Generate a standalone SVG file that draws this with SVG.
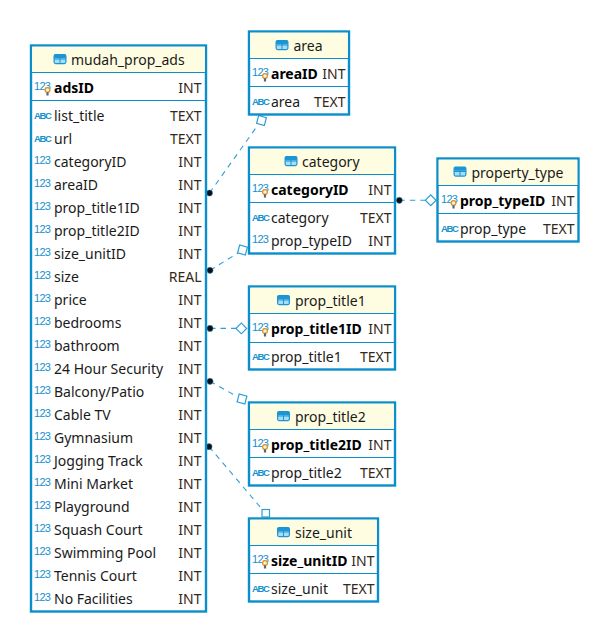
<svg xmlns="http://www.w3.org/2000/svg" width="589" height="623" viewBox="0 0 589 623">
<style>
text{font-family:"Noto Sans","Open Sans","Liberation Sans",sans-serif;font-size:14px;fill:#1a1a1a}
.box{fill:#fff;stroke:#0a8fcc;stroke-width:2.4}
.head{fill:#fffde1}
.sep{stroke:#0a8fcc;stroke-width:1;fill:none}
.b{font-weight:700;fill:#000}
.ty{text-anchor:end;fill:#33291a}
.n{font-size:11px;letter-spacing:-.7px;fill:#1590d0;font-family:"Liberation Sans",sans-serif}
.a{font-size:9.500px;letter-spacing:-1.300px;font-weight:700;fill:#1590d0;font-family:"Liberation Sans",sans-serif}
.conn{stroke:#2d9fd6;stroke-width:1.100;stroke-dasharray:5.500 5;fill:none}
.end{fill:#fff;stroke:#2d9fd6;stroke-width:1.200}
.dot{fill:#04121c;stroke:#4a90b8;stroke-width:.5}
</style>
<defs>
<g id="tbl"><rect x=".6" y=".6" width="11.800" height="9" rx="1.500" fill="#a9dcf5" stroke="#1b95d3" stroke-width="1.200"/><rect x=".6" y=".6" width="11.800" height="3.600" rx="1" fill="#1b95d3"/><path d="M.6 5H12.400M6.500 4V9.600" stroke="#1b95d3" stroke-width="1" fill="none"/></g>
<g id="key"><circle cx="0" cy="0" r="2.400" fill="#fff3c8" stroke="#d9902a" stroke-width="1.200"/><rect x="-1.100" y="2.300" width="2.200" height="3.200" fill="#5a6570"/></g>
</defs>
<g id="connectors">
<line class="conn" x1="209.500" y1="193" x2="258" y2="125"/>
<line class="conn" x1="210" y1="270.300" x2="238" y2="253"/>
<line class="conn" x1="399.300" y1="200.300" x2="425" y2="200.300"/>
<line class="conn" x1="210" y1="328.400" x2="236" y2="328.400"/>
<line class="conn" x1="210" y1="381.300" x2="236" y2="396"/>
<line class="conn" x1="209" y1="446.700" x2="261" y2="508"/>
<rect class="end" x="257.500" y="116.500" width="8" height="8" transform="rotate(15 261.500 120.500)"/>
<rect class="end" x="238.500" y="246" width="8" height="8" transform="rotate(15 242.500 250)"/>
<rect class="end" x="426.900" y="196.500" width="7.600" height="7.600" transform="rotate(45 430.700 200.300)"/>
<rect class="end" x="237.500" y="324.600" width="7.600" height="7.600" transform="rotate(45 241.300 328.400)"/>
<rect class="end" x="238" y="395" width="8" height="8" transform="rotate(15 242 399)"/>
<rect class="end" x="262" y="509.500" width="7.500" height="7.500"/>
<circle class="dot" cx="209.500" cy="193" r="3.100"/>
<circle class="dot" cx="210" cy="270.300" r="3.100"/>
<circle class="dot" cx="399.300" cy="200.300" r="3.100"/>
<circle class="dot" cx="210" cy="328.400" r="3.100"/>
<circle class="dot" cx="210" cy="381.300" r="3.100"/>
<circle class="dot" cx="209" cy="446.700" r="3.100"/>
</g>
<g id="mudah_prop_ads">
<rect class="box" x="31" y="45.500" width="175" height="566"/>
<rect class="head" x="32.200" y="46.700" width="172.600" height="25.300"/>
<line class="sep" x1="31" y1="72.500" x2="206" y2="72.500"/>
<line class="sep" x1="31" y1="100.500" x2="206" y2="100.500"/>
<use href="#tbl" x="53.500" y="54"/>
<text x="71" y="64.500">mudah_prop_ads</text>
<text class="n" x="34" y="90">123</text><use href="#key" x="47.500" y="90"/><text class="b" x="54" y="92.500">adsID</text><text class="ty" x="201.500" y="92.500">INT</text>
<text class="a" x="34" y="118.500">ABC</text><text x="54" y="120.500">list_title</text><text class="ty" x="201.500" y="120.500">TEXT</text>
<text class="a" x="34" y="141.500">ABC</text><text x="54" y="143.500">url</text><text class="ty" x="201.500" y="143.500">TEXT</text>
<text class="n" x="34" y="164">123</text><text x="54" y="166.500">categoryID</text><text class="ty" x="201.500" y="166.500">INT</text>
<text class="n" x="34" y="187">123</text><text x="54" y="189.500">areaID</text><text class="ty" x="201.500" y="189.500">INT</text>
<text class="n" x="34" y="210">123</text><text x="54" y="212.500">prop_title1ID</text><text class="ty" x="201.500" y="212.500">INT</text>
<text class="n" x="34" y="233">123</text><text x="54" y="235.500">prop_title2ID</text><text class="ty" x="201.500" y="235.500">INT</text>
<text class="n" x="34" y="256">123</text><text x="54" y="258.500">size_unitID</text><text class="ty" x="201.500" y="258.500">INT</text>
<text class="n" x="34" y="279">123</text><text x="54" y="281.500">size</text><text class="ty" x="201.500" y="281.500">REAL</text>
<text class="n" x="34" y="302">123</text><text x="54" y="304.500">price</text><text class="ty" x="201.500" y="304.500">INT</text>
<text class="n" x="34" y="325">123</text><text x="54" y="327.500">bedrooms</text><text class="ty" x="201.500" y="327.500">INT</text>
<text class="n" x="34" y="348">123</text><text x="54" y="350.500">bathroom</text><text class="ty" x="201.500" y="350.500">INT</text>
<text class="n" x="34" y="371">123</text><text x="54" y="373.500">24 Hour Security</text><text class="ty" x="201.500" y="373.500">INT</text>
<text class="n" x="34" y="394">123</text><text x="54" y="396.500">Balcony/Patio</text><text class="ty" x="201.500" y="396.500">INT</text>
<text class="n" x="34" y="417">123</text><text x="54" y="419.500">Cable TV</text><text class="ty" x="201.500" y="419.500">INT</text>
<text class="n" x="34" y="440">123</text><text x="54" y="442.500">Gymnasium</text><text class="ty" x="201.500" y="442.500">INT</text>
<text class="n" x="34" y="463">123</text><text x="54" y="465.500">Jogging Track</text><text class="ty" x="201.500" y="465.500">INT</text>
<text class="n" x="34" y="486">123</text><text x="54" y="488.500">Mini Market</text><text class="ty" x="201.500" y="488.500">INT</text>
<text class="n" x="34" y="509">123</text><text x="54" y="511.500">Playground</text><text class="ty" x="201.500" y="511.500">INT</text>
<text class="n" x="34" y="532">123</text><text x="54" y="534.500">Squash Court</text><text class="ty" x="201.500" y="534.500">INT</text>
<text class="n" x="34" y="555">123</text><text x="54" y="557.500">Swimming Pool</text><text class="ty" x="201.500" y="557.500">INT</text>
<text class="n" x="34" y="578">123</text><text x="54" y="580.500">Tennis Court</text><text class="ty" x="201.500" y="580.500">INT</text>
<text class="n" x="34" y="601">123</text><text x="54" y="603.500">No Facilities</text><text class="ty" x="201.500" y="603.500">INT</text>
</g>
<g id="area">
<rect class="box" x="249" y="31.500" width="100" height="83"/>
<rect class="head" x="250.200" y="32.700" width="97.600" height="25.300"/>
<line class="sep" x1="249" y1="58.500" x2="349" y2="58.500"/>
<line class="sep" x1="249" y1="86.500" x2="349" y2="86.500"/>
<use href="#tbl" x="275.500" y="40"/>
<text x="293.500" y="50.500">area</text>
<text class="n" x="252" y="76">123</text><use href="#key" x="265" y="76"/><text class="b" x="271" y="78.500">areaID</text><text class="ty" x="345.500" y="78.500">INT</text>
<text class="a" x="252" y="104.500">ABC</text><text x="271" y="106.500">area</text><text class="ty" x="345.500" y="106.500">TEXT</text>
</g>
<g id="category">
<rect class="box" x="249" y="147.500" width="146" height="106"/>
<rect class="head" x="250.200" y="148.700" width="143.600" height="25.300"/>
<line class="sep" x1="249" y1="174.500" x2="395" y2="174.500"/>
<line class="sep" x1="249" y1="202.500" x2="395" y2="202.500"/>
<use href="#tbl" x="284.500" y="156"/>
<text x="302" y="166.500">category</text>
<text class="n" x="252" y="192">123</text><use href="#key" x="265" y="192"/><text class="b" x="271" y="194.500">categoryID</text><text class="ty" x="391.500" y="194.500">INT</text>
<text class="a" x="252" y="220.500">ABC</text><text x="271" y="222.500">category</text><text class="ty" x="391.500" y="222.500">TEXT</text>
<text class="n" x="252" y="243">123</text><text x="271" y="245.500">prop_typeID</text><text class="ty" x="391.500" y="245.500">INT</text>
</g>
<g id="property_type">
<rect class="box" x="437.500" y="158.500" width="141" height="83"/>
<rect class="head" x="438.700" y="159.700" width="138.600" height="25.300"/>
<line class="sep" x1="437.500" y1="185.500" x2="578.500" y2="185.500"/>
<line class="sep" x1="437.500" y1="213.500" x2="578.500" y2="213.500"/>
<use href="#tbl" x="453.500" y="166.500"/>
<text x="471.500" y="177.500">property_type</text>
<text class="n" x="441" y="203">123</text><use href="#key" x="453.500" y="203"/><text class="b" x="460" y="205.500">prop_typeID</text><text class="ty" x="574.500" y="205.500">INT</text>
<text class="a" x="441" y="231.500">ABC</text><text x="460" y="233.500">prop_type</text><text class="ty" x="574.500" y="233.500">TEXT</text>
</g>
<g id="prop_title1">
<rect class="box" x="249" y="286.500" width="146" height="83"/>
<rect class="head" x="250.200" y="287.700" width="143.600" height="25.300"/>
<line class="sep" x1="249" y1="313.500" x2="395" y2="313.500"/>
<line class="sep" x1="249" y1="342.500" x2="395" y2="342.500"/>
<use href="#tbl" x="277" y="295"/>
<text x="295" y="305.500">prop_title1</text>
<text class="n" x="252" y="331">123</text><use href="#key" x="265" y="331"/><text class="b" x="271" y="333.500">prop_title1ID</text><text class="ty" x="391.500" y="333.500">INT</text>
<text class="a" x="252" y="359.500">ABC</text><text x="271" y="361.500">prop_title1</text><text class="ty" x="391.500" y="361.500">TEXT</text>
</g>
<g id="prop_title2">
<rect class="box" x="249" y="402.500" width="146" height="83"/>
<rect class="head" x="250.200" y="403.700" width="143.600" height="25.300"/>
<line class="sep" x1="249" y1="429.500" x2="395" y2="429.500"/>
<line class="sep" x1="249" y1="457.500" x2="395" y2="457.500"/>
<use href="#tbl" x="277" y="411"/>
<text x="295" y="421.500">prop_title2</text>
<text class="n" x="252" y="447">123</text><use href="#key" x="265" y="447"/><text class="b" x="271" y="449.500">prop_title2ID</text><text class="ty" x="391.500" y="449.500">INT</text>
<text class="a" x="252" y="475.500">ABC</text><text x="271" y="477.500">prop_title2</text><text class="ty" x="391.500" y="477.500">TEXT</text>
</g>
<g id="size_unit">
<rect class="box" x="249" y="518.500" width="129" height="83"/>
<rect class="head" x="250.200" y="519.700" width="126.600" height="25.300"/>
<line class="sep" x1="249" y1="545.500" x2="378" y2="545.500"/>
<line class="sep" x1="249" y1="573.500" x2="378" y2="573.500"/>
<use href="#tbl" x="277" y="527"/>
<text x="295" y="537.500">size_unit</text>
<text class="n" x="252" y="563">123</text><use href="#key" x="265" y="563"/><text class="b" x="271" y="565.500">size_unitID</text><text class="ty" x="374.500" y="565.500">INT</text>
<text class="a" x="252" y="591.500">ABC</text><text x="271" y="593.500">size_unit</text><text class="ty" x="374.500" y="593.500">TEXT</text>
</g>
</svg>
